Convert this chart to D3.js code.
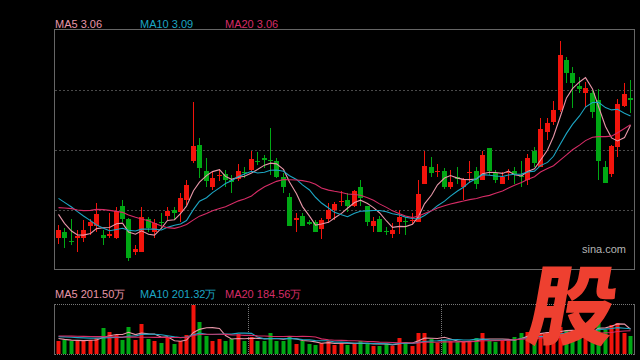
<!DOCTYPE html>
<html>
<head>
<meta charset="utf-8">
<script src="https://cdn.jsdelivr.net/npm/d3@7"></script>
<style>
    body {margin: 0; background: #000;}
    svg {display: block;}
</style>
</head>
<body>
<svg id="svg_main" width="640" height="360"></svg>
<script>
// daily bars
const open = [2.725,2.745,2.716,2.725,2.725,2.763,2.763,2.735,2.733,2.725,
    2.822,2.783,2.685,2.685,2.783,2.745,2.775,2.793,2.810,2.803,
    2.840,2.958,3.005,2.927,2.880,2.911,2.918,2.900,2.902,2.925,
    2.930,2.957,2.967,2.961,2.957,2.908,2.849,2.781,2.793,2.775,
    2.773,2.753,2.783,2.810,2.833,2.840,2.822,2.880,2.822,2.762,
    2.784,2.747,2.737,2.775,2.777,2.776,2.775,2.888,2.940,2.923,
    2.927,2.880,2.910,2.880,2.920,2.927,2.900,2.996,2.920,2.888,
    2.920,2.927,2.912,2.900,2.988,2.940,3.045,3.075,3.110,3.260,
    3.222,3.182,3.162,3.160,3.140,2.940,2.918,2.998,3.122,3.145];
const high = [2.765,2.757,2.782,2.750,2.780,2.782,2.831,2.750,2.800,2.820,
    2.839,2.785,2.705,2.820,2.790,2.783,2.802,2.820,2.820,2.860,
    2.900,3.133,3.025,2.967,2.927,2.933,2.930,2.915,2.947,2.940,
    2.987,2.985,2.975,3.055,2.965,2.920,2.860,2.800,2.802,2.780,
    2.780,2.785,2.830,2.833,2.868,2.860,2.870,2.900,2.822,2.790,
    2.792,2.760,2.770,2.810,2.790,2.802,2.900,2.988,2.968,2.948,
    2.935,2.930,2.940,2.905,2.957,2.940,2.988,2.996,2.930,2.925,
    2.932,2.940,2.957,2.978,2.998,3.085,3.085,3.138,3.318,3.268,
    3.240,3.210,3.195,3.170,3.172,2.957,3.005,3.142,3.190,3.200];
const low = [2.707,2.695,2.705,2.685,2.715,2.735,2.745,2.705,2.725,2.723,
    2.775,2.657,2.675,2.685,2.743,2.725,2.755,2.780,2.780,2.775,
    2.825,2.950,2.905,2.880,2.870,2.897,2.880,2.860,2.897,2.905,
    2.923,2.945,2.935,2.915,2.907,2.860,2.763,2.745,2.763,2.765,
    2.745,2.723,2.770,2.780,2.823,2.805,2.820,2.822,2.762,2.745,
    2.745,2.735,2.725,2.737,2.735,2.768,2.775,2.888,2.910,2.910,
    2.872,2.872,2.888,2.840,2.890,2.872,2.900,2.915,2.890,2.888,
    2.900,2.888,2.880,2.885,2.940,2.940,3.020,3.065,3.105,3.190,
    3.115,3.160,3.120,3.085,2.900,2.890,2.910,2.968,3.118,3.100];
const close = [2.750,2.725,2.715,2.733,2.750,2.775,2.798,2.727,2.737,2.807,
    2.783,2.667,2.692,2.789,2.755,2.771,2.771,2.807,2.800,2.845,
    2.885,3.002,2.937,2.897,2.905,2.915,2.900,2.893,2.927,2.921,
    2.963,2.953,2.959,2.957,2.910,2.880,2.763,2.785,2.763,2.767,
    2.745,2.780,2.810,2.827,2.837,2.822,2.867,2.845,2.775,2.777,
    2.745,2.743,2.750,2.790,2.773,2.780,2.858,2.942,2.922,2.927,
    2.880,2.895,2.904,2.903,2.924,2.888,2.975,2.926,2.900,2.910,
    2.924,2.918,2.908,2.967,2.950,3.054,3.071,3.110,3.275,3.222,
    3.192,3.172,3.175,3.105,2.958,2.892,3.002,3.128,3.158,3.141];
// volume, 万
const vol = [101,115,101,115,107,115,128,208,181,155,
    115,216,115,243,123,107,88,133,83,101,
    155,395,259,147,107,123,107,123,163,101,
    141,101,107,171,107,107,141,83,107,83,
    75,88,107,75,88,75,83,101,83,67,
    67,83,67,131,96,67,173,173,123,88,
    115,107,93,93,101,131,173,107,93,101,
    115,141,173,181,155,170,181,181,220,190,
    181,168,155,181,355,195,235,248,173,147];

// moving averages before a full window exists
const ma5Head = [2.797,2.770,2.747,2.735];
const ma10Head = [2.845,2.833,2.819,2.805,2.792,2.778,2.765,2.755,2.748];
const ma20Head = [2.817,2.816,2.814,2.810,2.808,2.809,2.812,2.811,2.809,2.806,
    2.803,2.795,2.788,2.783,2.778,2.770,2.762,2.757,2.755];
const vma5Head = [125,118,112,110];
const vma10Head = [140,138,135,132,130,128,128,130,132];
const vma20Head = [145,145,144,143,142,141,140,140,139,138,137,136,136,135,135,134,134,133,133];

const monthStarts = [30, 60];
const priceLabels = ['MA5 3.06', 'MA10 3.09', 'MA20 3.06'];
const volLabels = ['MA5 201.50万', 'MA10 201.32万', 'MA20 184.56万'];

const UP = '#f2140c', DOWN = '#00a814';
const maColors = ['#e896a8', '#1ca6c4', '#d62c66'];

function ma(arr, n, head) {
    return arr.map((d, i) => i < n - 1 ? head[i] : d3.mean(arr.slice(i - n + 1, i + 1)));
}

drawChart('#svg_main');

function drawChart(divID) {
    const svg = d3.select(divID);
    const n = close.length;
    const left = 55, right = 634;

    const x = d3.scaleBand().domain(d3.range(n)).range([left, right])
        .paddingInner(0.28).paddingOuter(0.14);
    const col = i => Math.round(x(i) + x.bandwidth() / 2 - 0.5);
    const y = d3.scaleLinear().domain([2.633, 3.35]).range([269, 30]);
    const yv = d3.scaleLinear().domain([0, d3.max(vol)]).range([354, 305]);
    const isUp = i => close[i] >= open[i];

    // ---- price panel
    svg.append('g').attr('class', 'grid')
        .selectAll('line')
        .data([90, 150, 210])
        .join('line')
        .attr('x1', left).attr('x2', right + 0.5)
        .attr('y1', d => d + 0.5).attr('y2', d => d + 0.5)
        .attr('stroke', '#4a4a4a')
        .attr('stroke-dasharray', '2,2');

    svg.append('rect')
        .attr('x', left - 0.5).attr('y', 29.5)
        .attr('width', right - left + 1).attr('height', 240)
        .attr('fill', 'none').attr('stroke', '#666');

    const candles = svg.append('g').attr('class', 'candles')
        .selectAll('g')
        .data(d3.range(n))
        .join('g')
        .attr('fill', i => isUp(i) ? UP : DOWN)
        .attr('stroke', i => isUp(i) ? UP : DOWN);
    candles.append('line')
        .attr('x1', i => col(i) + 0.5).attr('x2', i => col(i) + 0.5)
        .attr('y1', i => Math.round(y(high[i])))
        .attr('y2', i => Math.round(y(low[i])));
    candles.append('rect')
        .attr('stroke', 'none')
        .attr('x', i => col(i) - 2)
        .attr('width', 5)
        .attr('y', i => Math.round(y(Math.max(open[i], close[i]))))
        .attr('height', i => Math.max(1, Math.round(y(Math.min(open[i], close[i]))) - Math.round(y(Math.max(open[i], close[i])))));

    const line = d3.line().x((d, i) => col(i) + 0.5).y(d => y(d));
    [ma(close, 5, ma5Head), ma(close, 10, ma10Head), ma(close, 20, ma20Head)].forEach((s, k) => {
        svg.append('path').attr('d', line(s))
            .attr('fill', 'none').attr('stroke', maColors[k]).attr('stroke-width', 1.1);
    });

    svg.append('g').selectAll('text')
        .data(priceLabels)
        .join('text')
        .attr('x', (d, i) => left + i * 85).attr('y', 28)
        .attr('fill', (d, i) => maColors[i])
        .attr('font-family', 'Liberation Sans, Arial, sans-serif')
        .attr('font-size', 11)
        .text(d => d);

    svg.append('text')
        .attr('x', 582).attr('y', 253)
        .attr('fill', '#b4b4b4')
        .attr('font-family', 'Liberation Sans, Arial, sans-serif')
        .attr('font-size', 11)
        .text('sina.com');

    // ---- volume panel
    const vg = svg.append('g').attr('class', 'volume');
    vg.selectAll('line.h')
        .data([304, 354])
        .join('line')
        .attr('class', 'h')
        .attr('x1', left).attr('x2', right)
        .attr('y1', d => d + 0.5).attr('y2', d => d + 0.5)
        .attr('stroke', '#777').attr('stroke-dasharray', '1,1');
    vg.selectAll('line.v')
        .data(monthStarts)
        .join('line')
        .attr('class', 'v')
        .attr('x1', i => Math.round(x(i) - x.step() * 0.14) + 0.5)
        .attr('x2', i => Math.round(x(i) - x.step() * 0.14) + 0.5)
        .attr('y1', 305).attr('y2', 354)
        .attr('stroke', '#777').attr('stroke-dasharray', '1,1');
    vg.selectAll('line.s')
        .data([left - 0.5, right + 0.5])
        .join('line')
        .attr('class', 's')
        .attr('x1', d => d).attr('x2', d => d)
        .attr('y1', 304).attr('y2', 355)
        .attr('stroke', '#666');

    vg.selectAll('rect')
        .data(d3.range(n))
        .join('rect')
        .attr('x', i => col(i) - 1.5)
        .attr('width', 4)
        .attr('y', i => Math.round(yv(vol[i])))
        .attr('height', i => 354 - Math.round(yv(vol[i])))
        .attr('fill', i => isUp(i) ? UP : DOWN);

    const vline = d3.line().x((d, i) => col(i) + 0.5).y(d => yv(d));
    [ma(vol, 5, vma5Head), ma(vol, 10, vma10Head), ma(vol, 20, vma20Head)].forEach((s, k) => {
        vg.append('path').attr('d', vline(s))
            .attr('fill', 'none').attr('stroke', maColors[k]).attr('stroke-width', 1.1);
    });

    vg.append('g').selectAll('text')
        .data(volLabels)
        .join('text')
        .attr('x', (d, i) => left + i * 85).attr('y', 298)
        .attr('fill', (d, i) => maColors[i])
        .attr('font-family', 'Liberation Sans, Arial, sans-serif')
        .attr('font-size', 11)
        .text(d => d);

    // sina watermark
    svg.append('text')
        .attr('transform', 'translate(524,338) skewX(-10)')
        .attr('fill', '#ee4030')
        .attr('font-family', 'Noto Sans CJK SC')
        .attr('font-weight', 900)
        .attr('font-size', 87)
        .text('股');
}
</script>
</body>
</html>
